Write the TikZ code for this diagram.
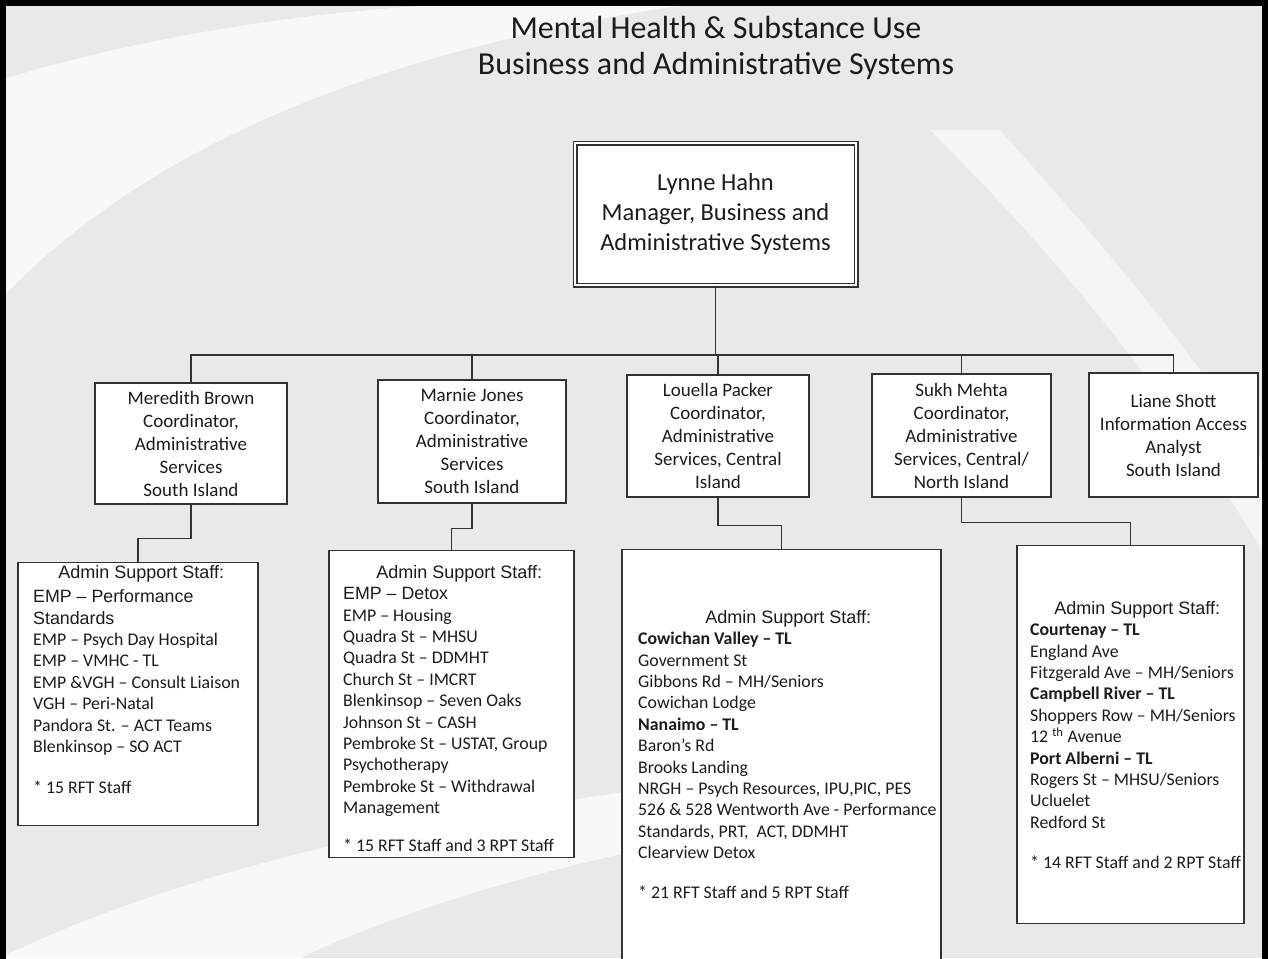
\documentclass[tikz,border=0pt]{standalone}
\usepackage{fontspec}
\setmainfont{Carlito}
\newfontfamily\arialfont{Liberation Sans}
\usepackage{xcolor}
\usepackage{tikz}

\definecolor{inkgray}{HTML}{1C1C1C}
\definecolor{linegray}{HTML}{333333}
\definecolor{paper}{HTML}{E9E9E9}
\newcommand{\stafffont}{\fontsize{17.8}{21.4}\selectfont}
\newcommand{\staffhead}[1]{\makebox[\linewidth][c]{\arialfont\fontsize{18}{21.4}\selectfont #1}}

\begin{document}
\begin{tikzpicture}[x=1pt, y=-1pt,
    titletext/.style={align=center, text=inkgray,
                      font=\fontsize{32}{36.5}\selectfont},
    mgrbox/.style={draw=linegray, line width=1.2pt, double=white,
                   double distance=2.6pt, fill=white, align=center,
                   text=inkgray, font=\fontsize{24.5}{30}\selectfont},
    coordbox/.style={draw=linegray, line width=1.4pt, fill=white,
                     align=center, inner sep=0pt, text=inkgray,
                     font=\fontsize{19}{23}\selectfont},
    staffbox/.style={draw=linegray, line width=1.4pt, fill=white,
                     inner sep=0pt, anchor=north},
    stafftext/.style={anchor=north west, inner sep=0pt, text=inkgray,
                      font=\stafffont},
    link/.style={draw=linegray, line width=1.3pt}
  ]
  \useasboundingbox (0,0) rectangle (1268,958);
  \clip (0,0) rectangle (1268,958);
  \fill[paper] (0,0) rectangle (1268,958);

  % pale swooshes of the letterhead
  \fill[white, opacity=0.7] (0,80) .. controls (200,20) and (400,0) .. (600,0)
    -- (720,0) .. controls (420,40) and (160,130) .. (0,300) -- cycle;
  \fill[white, opacity=0.55] (930,130) .. controls (1060,260) and (1160,380) .. (1268,560)
    -- (1268,470) .. controls (1180,330) and (1080,220) .. (1000,130) -- cycle;
  \fill[white, opacity=0.7] (0,958) .. controls (180,870) and (420,820) .. (640,790)
    -- (640,850) .. controls (500,880) and (380,920) .. (300,958) -- cycle;

  \node[titletext] (title) at (716,48)
    {Mental Health \& Substance Use\\Business and Administrative Systems};

  \node[mgrbox, minimum width=281, minimum height=142] (hahn) at (715.5,214)
    {Lynne Hahn\\Manager, Business and\\Administrative Systems};

  \node[coordbox, minimum width=192, minimum height=121] (brown) at (191,443.5)
    {Meredith Brown\\Coordinator,\\Administrative\\Services\\South Island};
  \node[coordbox, minimum width=188, minimum height=123] (jones) at (472,441.5)
    {Marnie Jones\\Coordinator,\\Administrative\\Services\\South Island};
  \node[coordbox, minimum width=182, minimum height=122] (packer) at (718,436)
    {Louella Packer\\Coordinator,\\Administrative\\Services, Central\\Island};
  \node[coordbox, minimum width=179, minimum height=123] (mehta) at (961.5,435.5)
    {Sukh Mehta\\Coordinator,\\Administrative\\Services, Central/\\North Island};
  \node[coordbox, minimum width=169, minimum height=124] (shott) at (1173.5,435)
    {Liane Shott\\Information Access\\Analyst\\South Island};

  \node[staffbox, minimum width=240, minimum height=263] (sbrown) at (138,562) {};
  \node[staffbox, minimum width=245, minimum height=307] (sjones) at (451.5,550) {};
  \node[staffbox, minimum width=319, minimum height=430] (spacker) at (781.5,549) {};
  \node[staffbox, minimum width=227, minimum height=378] (smehta) at (1130.5,545) {};

  \node[stafftext] (sbrowntext) at (33,565) {\parbox{216pt}{%
    \staffhead{Admin Support Staff:}\\[3pt]
    {\arialfont EMP – Performance}\\
    {\arialfont Standards}\\
    EMP – Psych Day Hospital\\
    EMP – VMHC - TL\\
    EMP \&VGH – Consult Liaison\\
    VGH – Peri-Natal\\
    Pandora St. – ACT Teams\\
    Blenkinsop – SO ACT\\[20pt]
    * 15 RFT Staff}};
  \node[stafftext] (sjonestext) at (343,565) {\parbox{232pt}{%
    \staffhead{Admin Support Staff:}\\
    {\arialfont EMP – Detox}\\
    EMP – Housing\\
    Quadra St – MHSU\\
    Quadra St – DDMHT\\
    Church St – IMCRT\\
    Blenkinsop – Seven Oaks\\
    Johnson St – CASH\\
    Pembroke St – USTAT, Group\\
    Psychotherapy\\
    Pembroke St – Withdrawal\\
    Management\\[16pt]
    * 15 RFT Staff and 3 RPT Staff}};
  \node[stafftext] (spackertext) at (638,610) {\parbox{300pt}{%
    \staffhead{Admin Support Staff:}\\
    \textbf{Cowichan Valley – TL}\\
    Government St\\
    Gibbons Rd – MH/Seniors\\
    Cowichan Lodge\\
    \textbf{Nanaimo – TL}\\
    Baron’s Rd\\
    Brooks Landing\\
    NRGH – Psych Resources, IPU,PIC, PES\\
    526 \& 528 Wentworth Ave - Performance\\
    Standards, PRT, \ ACT, DDMHT\\
    Clearview Detox\\[18pt]
    * 21 RFT Staff and 5 RPT Staff}};
  \node[stafftext] (smehtatext) at (1030,601) {\parbox{214pt}{%
    \staffhead{Admin Support Staff:}\\
    \textbf{Courtenay – TL}\\
    England Ave\\
    Fitzgerald Ave – MH/Seniors\\
    \textbf{Campbell River – TL}\\
    Shoppers Row – MH/Seniors\\
    12 \textsuperscript{th} Avenue\\
    \textbf{Port Alberni – TL}\\
    Rogers St – MHSU/Seniors\\
    Ucluelet\\
    Redford St\\[19pt]
    * 14 RFT Staff and 2 RPT Staff}};

  \coordinate (bus) at (715.5,355);
  \foreach \n in {brown,jones,packer,mehta,shott}
    \draw[link] (hahn.south) -- (bus) -| (\n.north);

  \draw[link] (brown.south) -- ++(0,34) -| (sbrown.north);
  \draw[link] (jones.south) -- ++(0,25) -| (sjones.north);
  \draw[link] (packer.south) -- ++(0,28) -| (spacker.north);
  \draw[link] (mehta.south) -- ++(0,25) -| (smehta.north);

  \draw[line width=6pt] (3,962) -- (3,3) -- (1265,3) -- (1265,962);
\end{tikzpicture}
\end{document}
